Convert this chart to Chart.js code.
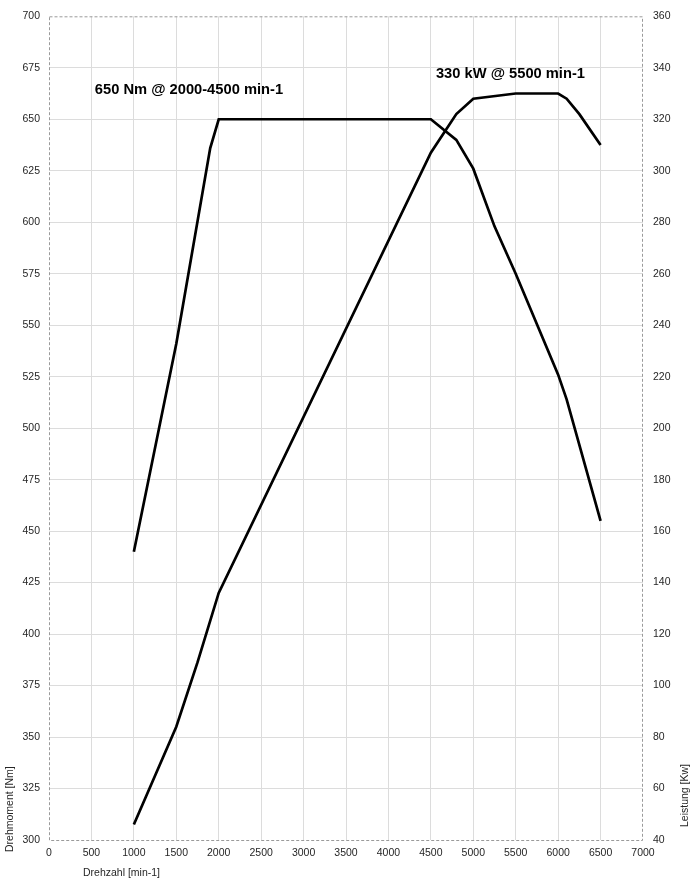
<!DOCTYPE html>
<html>
<head>
<meta charset="utf-8">
<script src="https://cdn.jsdelivr.net/npm/chart.js@4/dist/chart.umd.min.js"></script>
<style>
  html, body { margin: 0; padding: 0; background: #fff; }
  #wrap { width: 696px; height: 886px; position: relative; }
</style>
</head>
<body>
<div id="wrap"><canvas id="graph"></canvas></div>
<script>
// Drehmoment (Nm) ueber Drehzahl
var rpmTorque = [1000, 1500, 1900, 2000, 4500, 4800, 5000, 5250, 5500, 6000, 6100, 6500];
var torque    = [440, 541, 636, 650, 650, 640, 626, 598, 575, 526, 514, 455];

// Leistung (kW) ueber Drehzahl
var rpmPower = [1000, 1500, 1750, 2000, 4500, 4800, 5000, 5500, 6000, 6100, 6250, 6500];
var power    = [46, 84, 109, 136, 307, 322, 328, 330, 330, 328, 322, 310];

// Beschriftungen: [text, rpm, wert, achse]
var notes = [
    ['650 Nm @ 2000-4500 min-1', 540, 664, 'y'],
    ['330 kW @ 5500 min-1', 4560, 337.5, 'y1']
];

var fontFam = '"Liberation Sans", Arial, sans-serif';
var tickColor = '#262626';
var gridColor = '#dcdcdc';

function toPoints(xs, ys) {
    var pts = [];
    for (var i in xs) {
        pts.push({ x: xs[i], y: ys[i] });
    }
    return pts;
}

function edgeGrid(lo, hi) {
    return function (ctx) {
        if (!ctx.tick) return gridColor;
        var v = ctx.tick.value;
        return (v === lo || v === hi) ? 'rgba(0,0,0,0)' : gridColor;
    };
}

function plain(v) { return String(v); }

var extras = {
    id: 'extras',
    beforeDatasetsDraw: function (chart) {
        var c = chart.ctx, a = chart.chartArea;
        c.save();
        c.strokeStyle = '#9a9a9a';
        c.lineWidth = 1;
        c.setLineDash([3, 2]);
        c.strokeRect(a.left + 0.5, a.top + 0.5, a.right - a.left - 1, a.bottom - a.top);
        c.restore();
    },
    afterDatasetsDraw: function (chart) {
        var c = chart.ctx, a = chart.chartArea;
        c.save();
        // Kennwerte
        c.fillStyle = '#000';
        c.font = 'bold 14.7px ' + fontFam;
        c.textBaseline = 'middle';
        c.textAlign = 'left';
        notes.forEach(function (n) {
            var px = chart.scales.x.getPixelForValue(n[1]);
            var py = chart.scales[n[3]].getPixelForValue(n[2]);
            c.fillText(n[0], px, py);
        });
        // Achsentitel
        c.fillStyle = tickColor;
        c.font = '10.5px ' + fontFam;
        c.fillText('Drehzahl [min-1]', 83, a.bottom + 33);
        c.translate(10, a.bottom + 12);
        c.rotate(-Math.PI / 2);
        c.fillText('Drehmoment [Nm]', 0, 0);
        c.restore();
        c.save();
        c.fillStyle = tickColor;
        c.font = '10.5px ' + fontFam;
        c.textBaseline = 'middle';
        c.textAlign = 'left';
        c.translate(685, a.bottom - 13);
        c.rotate(-Math.PI / 2);
        c.fillText('Leistung [Kw]', 0, 0);
        c.restore();
    }
};

var graphTarget = document.getElementById('graph');

var chart = new Chart(graphTarget, {
    type: 'line',
    data: {
        datasets: [
            {
                label: 'Drehmoment',
                data: toPoints(rpmTorque, torque),
                borderColor: '#000',
                borderWidth: 2.7,
                pointRadius: 0,
                tension: 0,
                yAxisID: 'y'
            }, {
                label: 'Leistung',
                data: toPoints(rpmPower, power),
                borderColor: '#000',
                borderWidth: 2.7,
                pointRadius: 0,
                tension: 0,
                yAxisID: 'y1'
            }
        ]
    },
    options: {
        responsive: true,
        maintainAspectRatio: false,
        animation: false,
        layout: { padding: { top: 15, left: 0, right: 0, bottom: 0 } },
        plugins: {
            legend: { display: false },
            tooltip: { enabled: false }
        },
        scales: {
            x: {
                type: 'linear',
                min: 0,
                max: 7000,
                ticks: {
                    stepSize: 500,
                    color: tickColor,
                    font: { family: fontFam, size: 10.5 },
                    padding: 7,
                    maxRotation: 0,
                    autoSkip: false,
                    callback: plain
                },
                grid: { color: edgeGrid(0, 7000), drawTicks: false },
                border: { display: false },
                afterFit: function (s) { s.height = 46; }
            },
            y: {
                position: 'left',
                min: 300,
                max: 700,
                ticks: {
                    stepSize: 25,
                    color: tickColor,
                    font: { family: fontFam, size: 10.5 },
                    padding: 9,
                    callback: plain
                },
                grid: { color: edgeGrid(300, 700), drawTicks: false },
                border: { display: false },
                afterFit: function (s) { s.width = 49; }
            },
            y1: {
                position: 'right',
                min: 40,
                max: 360,
                ticks: {
                    stepSize: 20,
                    color: tickColor,
                    font: { family: fontFam, size: 10.5 },
                    padding: 10,
                    callback: plain
                },
                grid: { drawOnChartArea: false, drawTicks: false },
                border: { display: false },
                afterFit: function (s) { s.width = 53; }
            }
        }
    },
    plugins: [extras]
});
</script>
</body>
</html>
